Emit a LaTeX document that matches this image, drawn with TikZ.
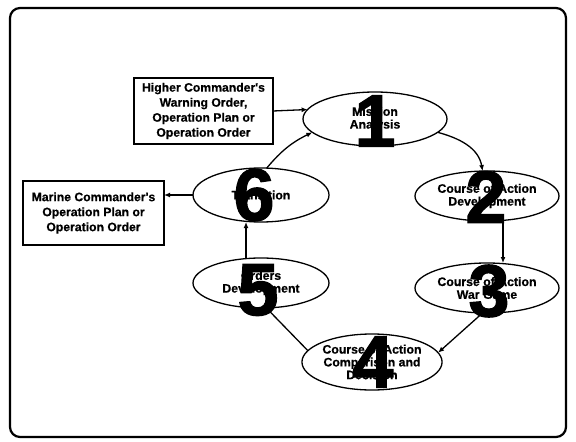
\documentclass[tikz,border=0pt]{standalone}
\usepackage{fontspec}
\setmainfont{Liberation Sans}
\newfontfamily\lblfont{Liberation Sans Bold}[FakeBold=0.6]
\newfontfamily\numfont{Liberation Sans Bold}[FakeBold=1.5]
\usetikzlibrary{shapes.geometric,arrows.meta}
\begin{document}
\begin{tikzpicture}[x=1pt,y=-1pt,
  every node/.style={align=center},
  stage/.style={draw, line width=1.3pt, ellipse, inner sep=0pt, outer sep=0pt,
    font=\lblfont\fontsize{12.3}{12.8}\selectfont},
  docbox/.style={draw, line width=1.6pt, rectangle, inner sep=0pt, outer sep=0pt,
    font=\lblfont\fontsize{12.2}{15}\selectfont},
  num/.style={inner sep=0pt, font=\numfont\fontsize{74}{74}\selectfont},
  arr/.style={line width=1.3pt, -{Latex[length=6pt,width=5pt]}}
]
\useasboundingbox (0,0) rectangle (576,442);
\draw[line width=2.2pt, rounded corners=10pt] (10,8) rectangle (566,437);

\node[docbox, minimum width=139pt, minimum height=66pt] (H) at (203.5,111)
  {Higher Commander's\\Warning Order,\\Operation Plan or\\Operation Order};
\node[docbox, minimum width=141pt, minimum height=64pt] (M) at (93.5,213)
  {Marine Commander's\\Operation Plan or\\Operation Order};

\node[stage, minimum width=144pt, minimum height=54pt] (e1) at (375,119) {Mission\\Analysis};
\node[stage, minimum width=144pt, minimum height=50pt] (e2) at (487,196) {Course of Action\\Development};
\node[stage, minimum width=144pt, minimum height=50pt] (e3) at (487,288) {Course of Action\\War Game};
\node[stage, minimum width=138pt, minimum height=56pt] (e4) at (372,362) {Course of Action\\Comparison and\\Decision};
\node[stage, minimum width=136pt, minimum height=50pt] (e5) at (261,283) {Orders\\Development};
\node[stage, minimum width=136pt, minimum height=54pt] (e6) at (261,195) {Transition};

\node[num] (n1) at (375,121) {1};
\node[num] (n2) at (486,197) {2};
\node[num] (n3) at (489,291) {3};
\node[num] (n4) at (373,362) {4};
\node[num] (n5) at (258,290) {5};
\node[num] (n6) at (254,195) {6};

\draw[arr] (H.east) -- (e1.172);
\draw[arr] (e6.west) -- (e6.west -| M.east);
\draw[arr] (e1.-12) to[out=-15,in=100] (e2.100);
\draw[arr] ([xshift=16pt]e2.south) -- ([xshift=16pt]e3.north);
\draw[arr] (e3.-100) -- (e4.8);
\draw[arr] (e4.170) -- (e5.-78);
\draw[arr] ([xshift=-15pt]e5.north) -- ([xshift=-15pt]e6.south);
\draw[arr] (e6.78) to[bend left=12] (e1.192);
\end{tikzpicture}
\end{document}
